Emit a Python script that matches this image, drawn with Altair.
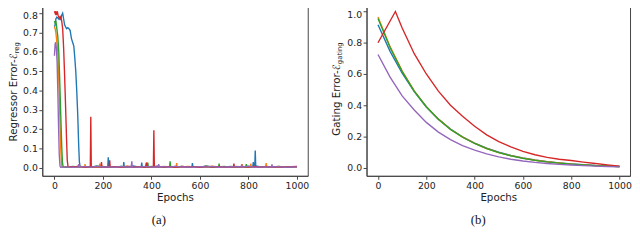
import altair as alt
import pandas as pd

SERIES = ["C0", "C1", "C2", "C3", "C4"]
COLORS = ["#1f77b4", "#ff7f0e", "#2ca02c", "#d62728", "#9467bd"]
X_TICKS = [0, 200, 400, 600, 800, 1000]
REG_Y_TICKS = [0.0, 0.1, 0.2, 0.3, 0.4, 0.5, 0.6, 0.7, 0.8]
GATE_Y_TICKS = [0.0, 0.2, 0.4, 0.6, 0.8, 1.0]

# ---------------- (a) Regressor error ----------------
reg_c0_ep = [0, 3, 6, 10, 14, 18, 22, 26, 30, 34, 38, 42, 46, 50, 55, 60, 65, 70, 75, 80, 84, 88, 92, 96, 100, 103, 106,
             125, 150, 175, 200, 220, 222, 224, 250, 275, 284, 286, 288, 300, 325, 350, 358, 360, 362, 375, 400, 425, 450,
             475, 500, 525, 550, 567, 569, 571, 600, 625, 650, 675, 700, 725, 750, 775, 800, 818, 820, 822, 826, 828, 830,
             850, 875, 900, 925, 950, 975, 1000]
reg_c0_val = [0.73, 0.74, 0.77, 0.78, 0.775, 0.77, 0.78, 0.77, 0.79, 0.80, 0.77, 0.74, 0.73, 0.72, 0.725, 0.72, 0.71, 0.67,
              0.65, 0.63, 0.57, 0.50, 0.40, 0.28, 0.12, 0.03, 0.008,
              0.006, 0.004, 0.009, 0.005, 0.006, 0.055, 0.006, 0.004, 0.008, 0.005, 0.03, 0.006, 0.005, 0.01, 0.004, 0.006,
              0.028, 0.006, 0.007, 0.005, 0.009, 0.004, 0.006, 0.008, 0.004, 0.007, 0.005, 0.025, 0.006, 0.004, 0.009,
              0.005, 0.007, 0.004, 0.008, 0.005, 0.006, 0.009, 0.006, 0.03, 0.008, 0.006, 0.09, 0.01, 0.005, 0.008, 0.004,
              0.007, 0.005, 0.006, 0.004]

reg_c1_ep = [0, 3, 6, 10, 14, 18, 22, 26, 29, 32,
             50, 75, 100, 125, 126, 128, 150, 185, 187, 189, 200, 225, 250, 275, 300, 325, 350, 377, 379, 381, 400, 425,
             450, 475, 502, 504, 506, 525, 550, 575, 600, 625, 650, 675, 700, 725, 750, 772, 774, 776, 808, 810, 812, 825,
             850, 871, 873, 875, 900, 925, 950, 975, 1000]
reg_c1_val = [0.73, 0.72, 0.70, 0.65, 0.60, 0.45, 0.28, 0.10, 0.02, 0.005,
              0.007, 0.004, 0.009, 0.005, 0.02, 0.006, 0.004, 0.006, 0.022, 0.005, 0.008, 0.004, 0.007, 0.005, 0.009,
              0.004, 0.006, 0.006, 0.028, 0.005, 0.007, 0.004, 0.008, 0.005, 0.006, 0.025, 0.005, 0.004, 0.008, 0.005,
              0.007, 0.004, 0.009, 0.005, 0.006, 0.004, 0.008, 0.005, 0.02, 0.005, 0.006, 0.022, 0.006, 0.005, 0.007,
              0.006, 0.025, 0.005, 0.004, 0.008, 0.005, 0.007, 0.004]

reg_c2_ep = [0, 3, 6, 10, 14, 18, 22, 26, 30, 33, 36,
             50, 75, 100, 125, 150, 175, 200, 225, 250, 275, 300, 325, 350, 383, 385, 387, 400, 425, 450, 475, 477, 479,
             500, 525, 550, 575, 600, 625, 650, 677, 679, 681, 700, 725, 750, 789, 791, 793, 800, 825, 850, 875, 900,
             925, 950, 975, 1000]
reg_c2_val = [0.76, 0.75, 0.76, 0.72, 0.68, 0.60, 0.45, 0.28, 0.12, 0.03, 0.006,
              0.004, 0.008, 0.005, 0.007, 0.004, 0.009, 0.005, 0.006, 0.004, 0.008, 0.005, 0.007, 0.004, 0.006, 0.028,
              0.006, 0.008, 0.005, 0.007, 0.006, 0.035, 0.006, 0.004, 0.008, 0.005, 0.007, 0.004, 0.009, 0.005, 0.006,
              0.022, 0.005, 0.008, 0.004, 0.007, 0.006, 0.02, 0.005, 0.005, 0.008, 0.004, 0.007, 0.005, 0.008, 0.004,
              0.006, 0.007]

reg_c3_ep = [0, 3, 5, 8, 10, 12, 15, 18, 22, 26, 30, 34, 38, 42, 46, 50, 53, 56,
             75, 100, 125, 148, 150, 152, 175, 192, 194, 196, 210, 226, 228, 230, 250, 275, 300, 325, 350, 375, 380, 382,
             408, 410, 412, 425, 450, 475, 500, 525, 550, 575, 600, 625, 650, 675, 700, 738, 740, 742, 760, 800, 825, 850,
             875, 900, 925, 950, 975, 1000]
reg_c3_val = [0.81, 0.80, 0.81, 0.79, 0.80, 0.81, 0.79, 0.78, 0.77, 0.78, 0.76, 0.72, 0.62, 0.48, 0.32, 0.15, 0.04, 0.008,
              0.005, 0.008, 0.004, 0.006, 0.265, 0.006, 0.007, 0.005, 0.03, 0.006, 0.004, 0.006, 0.04, 0.005, 0.007,
              0.004, 0.008, 0.005, 0.006, 0.004, 0.028, 0.005, 0.006, 0.195, 0.006, 0.008, 0.005, 0.007, 0.004, 0.008,
              0.005, 0.006, 0.004, 0.008, 0.005, 0.007, 0.004, 0.006, 0.022, 0.005, 0.007, 0.005, 0.008, 0.004, 0.007,
              0.005, 0.006, 0.004, 0.007, 0.008]

reg_c4_ep = [0, 3, 5, 8, 11, 14, 17, 20, 23, 26,
             50, 75, 98, 100, 102, 125, 150, 175, 200, 225, 250, 275, 300, 317, 319, 321, 350, 375, 400, 428, 430, 432,
             450, 475, 500, 525, 550, 575, 600, 625, 650, 675, 700, 725, 750, 770, 772, 774, 800, 825, 850, 875, 895,
             897, 899, 925, 950, 975, 1000]
reg_c4_val = [0.58, 0.64, 0.65, 0.62, 0.55, 0.40, 0.22, 0.07, 0.01, 0.004,
              0.006, 0.004, 0.006, 0.02, 0.005, 0.007, 0.004, 0.008, 0.005, 0.006, 0.004, 0.007, 0.005, 0.006, 0.035,
              0.006, 0.004, 0.008, 0.005, 0.006, 0.02, 0.005, 0.007, 0.004, 0.008, 0.005, 0.006, 0.004, 0.007, 0.005,
              0.008, 0.004, 0.006, 0.005, 0.007, 0.005, 0.018, 0.005, 0.008, 0.004, 0.006, 0.005, 0.006, 0.018, 0.005,
              0.007, 0.004, 0.006, 0.005]

# ---------------- (b) Gating error ----------------
gate_ep = [0, 50, 100, 150, 200, 250, 300, 350, 400, 450, 500, 550, 600, 650, 700, 750, 800, 850, 900, 950, 1000]
gate_c0_val = [0.915, 0.745, 0.605, 0.487, 0.389, 0.311, 0.248, 0.198, 0.158, 0.125, 0.099, 0.078, 0.062, 0.049,
               0.039, 0.031, 0.024, 0.019, 0.014, 0.011, 0.008]
gate_c1_val = [0.965, 0.775, 0.62, 0.492, 0.391, 0.311, 0.246, 0.196, 0.156, 0.123, 0.097, 0.077, 0.061, 0.048,
               0.038, 0.03, 0.023, 0.018, 0.013, 0.01, 0.007]
gate_c2_val = [0.955, 0.77, 0.615, 0.49, 0.39, 0.31, 0.245, 0.195, 0.155, 0.122, 0.096, 0.076, 0.06, 0.047, 0.037,
               0.029, 0.023, 0.018, 0.013, 0.01, 0.007]
gate_c3_ep = [0, 72, 100, 150, 200, 250, 300, 350, 400, 450, 500, 550, 600, 650, 700, 750, 800, 850, 900, 950, 1000]
gate_c3_val = [0.80, 1.0, 0.895, 0.73, 0.60, 0.49, 0.40, 0.33, 0.265, 0.21, 0.167, 0.133, 0.105, 0.083, 0.066, 0.054,
               0.046, 0.036, 0.027, 0.018, 0.01]
gate_c4_val = [0.725, 0.58, 0.46, 0.37, 0.29, 0.228, 0.18, 0.142, 0.112, 0.088, 0.069, 0.054, 0.043, 0.034, 0.027,
               0.021, 0.017, 0.013, 0.01, 0.007, 0.005]


def long_table(parts):
    rows = []
    for name, eps, vals in parts:
        for e, v in zip(eps, vals):
            rows.append({"series": name, "epoch": e, "value": v})
    return pd.DataFrame(rows)


reg_df = long_table([
    ("C0", reg_c0_ep, reg_c0_val), ("C1", reg_c1_ep, reg_c1_val), ("C2", reg_c2_ep, reg_c2_val),
    ("C3", reg_c3_ep, reg_c3_val), ("C4", reg_c4_ep, reg_c4_val)])
gate_df = long_table([
    ("C0", gate_ep, gate_c0_val), ("C1", gate_ep, gate_c1_val), ("C2", gate_ep, gate_c2_val),
    ("C3", gate_c3_ep, gate_c3_val), ("C4", gate_ep, gate_c4_val)])

H = 176
TEXT = "#222222"
FONT = "DejaVu Sans"
one = pd.DataFrame({"k": [0]})


def panel(df, xdomain, ydomain, yticks, top_tick, top_shift, width, title_main, title_sub, main_len, sub_label,
          label_x, title_x, title_y):
    x = alt.X("epoch:Q", scale=alt.Scale(domain=xdomain, nice=False, zero=False),
              axis=alt.Axis(values=X_TICKS, format="d", title="Epochs", grid=False))
    y = alt.Y("value:Q", scale=alt.Scale(domain=ydomain, nice=False, zero=False),
              axis=alt.Axis(values=yticks, format=".1f", title=None, grid=False,
                            labelOffset={"condition": {"test": f"datum.value > {top_tick - 0.01}",
                                                       "value": top_shift}, "value": 0}))
    lines = alt.Chart(df).mark_line(strokeWidth=1.4, clip=True).encode(
        x=x, y=y,
        color=alt.Color("series:N", scale=alt.Scale(domain=SERIES, range=COLORS), legend=None),
        detail="series:N")
    tmain = alt.Chart(one).mark_text(angle=270, align="left", baseline="middle", fontSize=10.5, font=FONT,
                                     color=TEXT, text=title_main).encode(
        x=alt.value(title_x), y=alt.value(title_y))
    tsub = alt.Chart(one).mark_text(angle=270, align="left", baseline="middle", fontSize=7, font=FONT,
                                    color=TEXT, text=title_sub).encode(
        x=alt.value(title_x + 3), y=alt.value(title_y - main_len))
    lab = alt.Chart(one).mark_text(align="center", baseline="middle", fontSize=13, font="Liberation Serif",
                                   color="#111111", text=sub_label).encode(
        x=alt.value(label_x), y=alt.value(221))
    return alt.layer(lines, tmain, tsub, lab).properties(width=width, height=H)


pa = panel(reg_df, [-50, 1044.5], [-0.0405, 0.8506], REG_Y_TICKS, 0.8, 2, 271,
           "Regressor Error-ℰ", "reg", 90, "(a)", 119, -29, 141)
pb = panel(gate_df, [-47.5, 1043.5], [-0.052, 1.052], GATE_Y_TICKS, 1.0, 3.5, 269,
           "Gating Error-ℰ", "gating", 73, "(b)", 114, -30, 135)

chart = alt.hconcat(pa, pb, spacing=22).properties(
    padding={"top": -8, "left": 0, "right": 0, "bottom": 0}, background="white").configure_view(
    stroke="#444444", strokeWidth=1).configure_axis(
    domainColor="#444444", tickColor="#444444", labelColor=TEXT, labelFont=FONT, labelFontSize=9.5,
    tickSize=3.5, labelPadding=1.5, titleFont=FONT, titleFontSize=10.5, titleFontWeight="normal",
    titleColor=TEXT, titlePadding=3)

chart.save("out.html", embed_options={"renderer": "svg", "actions": False})
